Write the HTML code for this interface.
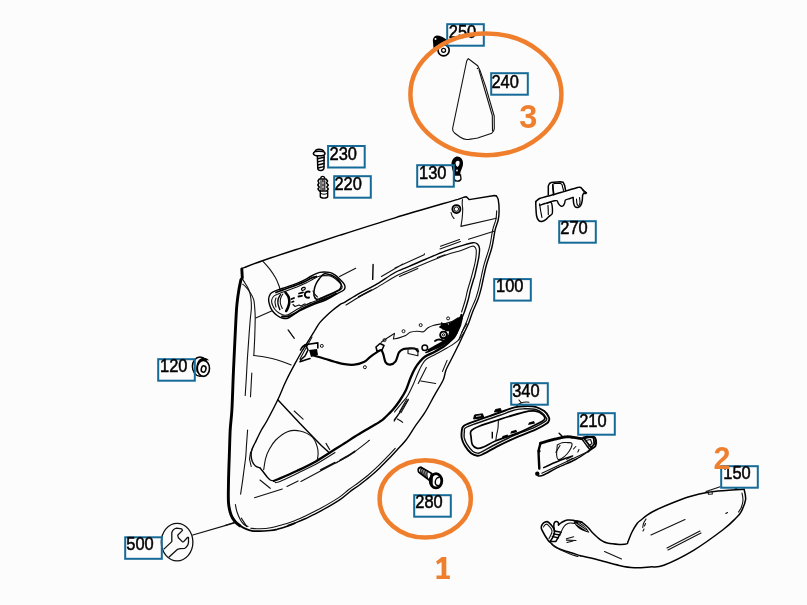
<!DOCTYPE html>
<html><head><meta charset="utf-8">
<style>
html,body{margin:0;padding:0;background:#fcfcfc;}
body{width:807px;height:605px;overflow:hidden;position:relative;}
svg{position:absolute;left:0;top:0;will-change:transform;}
.l{fill:none;stroke:#111;stroke-width:1.1;stroke-linecap:round;stroke-linejoin:round;}
.t{fill:none;stroke:#000;stroke-width:1.6;stroke-linecap:round;stroke-linejoin:round;}
.m{fill:none;stroke:#000;stroke-width:1.4;stroke-linecap:round;stroke-linejoin:round;}
.k{fill:none;stroke:#000;stroke-width:2.3;stroke-linecap:round;stroke-linejoin:round;}
.k2{fill:none;stroke:#000;stroke-width:2.9;stroke-linecap:round;stroke-linejoin:round;}
.w{fill:none;stroke:#000;stroke-width:2.2;stroke-linecap:round;stroke-linejoin:round;}
.f{fill:#fcfcfc;stroke:#111;stroke-width:1.2;stroke-linejoin:round;}
.bx{fill:none;stroke:#166a97;stroke-width:2;}
.n{font-family:"Liberation Sans",sans-serif;font-size:17.5px;fill:#000;stroke:#000;stroke-width:0.5;}
.o{fill:none;stroke:#f07f2d;stroke-width:4.5;}
.on{font-family:"Liberation Sans",sans-serif;font-weight:bold;font-size:29px;fill:#f07f2d;}
</style></head>
<body>
<svg width="807" height="605" viewBox="0 0 807 605">
<!-- ============ DOOR PANEL ============ -->
<g id="door">
<path class="m" d="M241.8,269.0 C242.3,268.7 241.0,268.9 244.8,267.4 C248.6,265.9 255.4,263.2 264.6,260.0 C273.8,256.8 287.4,252.4 300.0,248.3 C312.6,244.2 324.2,240.3 340.0,235.2 C355.8,230.1 375.3,223.8 395.0,217.8 C414.7,211.8 447.5,202.4 458.0,199.3 L463.6,197.3 L466.4,196.7 L469.1,199.6 L494.5,195.5 L496.4,196"/>
<path class="m" d="M496.4,196.0 C496.7,196.7 497.9,197.5 498.3,200.0 C498.8,202.5 499.1,207.6 499.1,210.9 C499.1,214.2 498.9,216.8 498.2,220.0 C497.5,223.2 496.1,225.5 495.1,230.0 C494.1,234.5 493.4,241.2 492.0,247.0 C490.6,252.8 488.0,259.2 486.5,264.7 C485.0,270.2 483.9,275.8 483.0,280.0 C482.1,284.2 481.7,286.6 480.8,289.9 C479.9,293.2 479.2,296.2 477.8,299.8 C476.4,303.4 474.2,307.9 472.7,311.7 C471.2,315.5 470.3,319.0 468.8,322.7 C467.3,326.4 465.5,329.9 463.8,333.6 C462.1,337.3 460.5,340.9 458.5,345.0 C456.5,349.1 454.1,353.8 452.0,358.0 C449.9,362.2 447.5,366.3 446.0,370.0 C444.5,373.7 445.1,375.9 443.2,380.0 C441.3,384.1 437.8,389.4 434.7,394.9 C431.6,400.3 428.1,407.4 424.8,412.7 C421.5,418.0 418.0,422.1 414.9,426.6 C411.8,431.2 409.0,436.1 406.0,440.0 C403.0,443.9 399.7,447.0 397.0,450.0 C394.3,453.0 392.5,454.9 389.6,457.9 C386.7,460.9 383.0,464.8 379.7,467.9 C376.4,471.0 373.1,474.0 369.8,476.8 C366.5,479.6 363.1,482.2 359.8,484.7 C356.5,487.2 353.2,489.2 349.9,491.7 C346.6,494.2 344.8,496.5 340.0,499.6 C335.2,502.8 327.1,507.5 321.4,510.6 C315.7,513.8 310.1,516.4 305.7,518.5 C301.2,520.6 297.6,522.0 294.7,523.2 C291.8,524.4 289.1,525.1 288.0,525.5"/>
<path class="l" d="M496.7,210.7 C496.6,212.1 496.5,216.4 495.9,219.5 C495.2,222.6 493.8,225.0 492.8,229.5 C491.7,233.9 491.1,240.7 489.7,246.4 C488.2,252.2 485.7,258.6 484.2,264.1 C482.7,269.6 481.6,275.3 480.7,279.5 C479.7,283.7 479.3,286.0 478.5,289.3 C477.6,292.5 476.9,295.4 475.6,299.0 C474.2,302.6 472.0,307.0 470.5,310.8 C469.0,314.6 468.1,318.2 466.6,321.8 C465.1,325.4 462.4,330.8 461.6,332.6"/>
<path class="l" d="M395.2,448.4 C394.0,449.7 390.7,453.3 387.9,456.2 C385.0,459.2 381.3,463.0 378.0,466.2 C374.8,469.3 371.5,472.2 368.3,475.0 C365.0,477.7 361.7,480.3 358.4,482.8 C355.1,485.2 351.7,487.3 348.5,489.8 C345.2,492.3 343.4,494.5 338.7,497.6 C334.0,500.7 325.9,505.4 320.2,508.5 C314.6,511.6 309.1,514.2 304.7,516.3 C300.3,518.4 295.6,520.2 293.8,521.0"/>
<path class="k2" d="M241.8,269 L242.3,277.8 L240.9,279.8  C240.6,281.4 239.6,285.6 238.9,289.7 C238.2,293.8 237.4,299.6 236.9,304.6 C236.4,309.7 236.5,309.1 235.9,320.0 C235.3,330.9 234.2,355.0 233.5,370.0 C232.8,385.0 232.5,400.0 231.9,410.0 C231.3,420.0 230.6,422.3 230.2,430.0 C229.8,437.7 229.6,447.3 229.3,456.0 C229.0,464.7 228.6,474.3 228.5,482.1 C228.4,489.9 228.1,497.4 228.5,502.9 C228.9,508.4 230.0,511.9 231.1,515.0 C232.2,518.1 233.5,519.7 235.0,521.5 C236.5,523.3 239.2,525.1 240.0,525.8"/>
<path class="m" d="M236.0,522.6 C236.7,523.1 238.4,524.8 240.0,525.8 C241.6,526.8 243.8,528.1 245.8,528.9 C247.8,529.7 249.7,530.4 252.0,530.8 C254.3,531.2 256.7,531.2 259.7,531.2 C262.7,531.2 267.1,530.8 270.0,530.5 C272.9,530.2 274.1,530.0 277.1,529.3 C280.1,528.5 285.1,527.0 288.0,526.0 C290.9,525.0 293.6,523.7 294.7,523.2" style="stroke-width:1.7"/>
<path class="l" d="M250.7,528.3 C252.2,528.4 256.4,528.9 260.0,528.8 C263.6,528.7 268.2,528.2 272.0,527.5 C275.8,526.8 279.4,525.5 283.0,524.5 C286.6,523.5 291.7,521.8 293.4,521.3"/>
<path class="l" d="M241.3,518.1 L246.8,526.6"/>
<path class="l" d="M242.3,278.8 C242.7,279.5 243.7,281.0 244.8,282.8 C245.9,284.6 247.8,287.2 248.8,289.7 C249.8,292.2 250.4,294.7 250.8,297.7 C251.2,300.7 251.5,303.9 251.4,307.6 C251.3,311.3 250.6,315.1 250.2,320.0 C249.8,324.9 249.3,331.1 248.9,337.0 C248.5,342.9 248.1,348.3 247.6,355.5 C247.1,362.7 246.6,373.3 246.2,380.0 C245.8,386.7 245.4,392.9 245.2,395.5"/>
<path class="l" d="M242.8,284.3 C243.3,284.7 244.6,285.4 245.8,286.8 C247.1,288.2 249.0,290.6 250.3,292.7 C251.6,294.8 253.0,297.1 253.7,299.6 C254.4,302.1 254.4,304.6 254.7,307.6 C254.9,310.6 255.2,312.9 255.2,317.5 C255.2,322.1 255.0,328.7 254.8,335.0 C254.6,341.3 254.0,352.1 253.8,355.5"/>
<path class="l" d="M253.8,355.5 C255.2,355.7 259.0,356.0 262.0,356.5 C265.0,357.0 268.7,357.7 272.0,358.5 C275.3,359.3 278.8,360.4 282.0,361.5 C285.2,362.6 289.7,364.3 291.2,364.9"/>
<path class="l" d="M251.8,373 L250.5,396.8"/>
<path class="l" d="M255.7,318 L271.6,311"/>
<path class="l" d="M247.6,430.0 C247.4,432.5 246.8,440.7 246.5,445.0 C246.2,449.3 246.2,451.8 245.8,456.0 C245.4,460.2 244.6,465.6 244.0,470.0 C243.4,474.4 243.0,478.1 242.4,482.1 C241.8,486.1 240.9,492.2 240.6,494.2"/>
<path class="l" d="M235.4,504.6 C235.7,505.8 236.1,509.4 237.0,512.0 C237.9,514.6 239.4,518.1 240.6,520.2 C241.8,522.3 242.8,523.5 244.0,524.5 C245.2,525.5 247.3,526.2 248.0,526.5"/>
<path class="l" d="M225,525.4 L235.4,522"/>
<path class="l" d="M262.7,261.0 C263.9,262.3 267.5,266.1 269.6,268.9 C271.7,271.7 273.9,275.0 275.5,277.8 C277.1,280.6 278.2,283.8 279.0,285.8 C279.8,287.8 279.8,289.1 280.0,289.7"/>
<path class="m" d="M270.4,293.9 C271.4,292.5 272.9,292.1 274.8,291.2 C276.7,290.3 278.4,289.8 282.0,288.5 C285.6,287.2 292.4,285.1 296.3,283.6 C300.2,282.1 302.7,280.9 305.2,279.6 C307.7,278.3 309.0,277.2 311.4,276.0 C313.8,274.8 316.7,273.0 319.7,272.4 C322.7,271.8 326.9,272.0 329.4,272.4 C331.9,272.8 332.7,273.4 334.6,274.7 C336.5,275.9 339.0,278.3 340.6,279.9 C342.2,281.5 343.6,283.1 344.3,284.3 C345.0,285.5 345.1,286.3 345.0,287.3 C344.9,288.3 345.0,289.1 343.5,290.3 C342.0,291.5 339.0,292.7 336.0,294.3 C333.0,295.9 329.6,298.2 325.7,300.0 C321.8,301.8 316.4,303.4 312.3,305.1 C308.2,306.8 303.9,308.7 301.2,310.0 C298.5,311.3 298.5,311.5 296.3,312.8 C294.1,314.1 290.4,317.1 288.2,318.0 C286.0,318.9 284.7,318.7 282.9,318.3 C281.1,317.9 279.2,317.0 277.5,315.8 C275.8,314.6 273.8,312.7 272.5,311.0 C271.2,309.3 270.4,307.4 269.8,305.5 C269.2,303.6 268.5,301.4 268.6,299.5 C268.7,297.6 269.4,295.3 270.4,293.9 Z" style="stroke-width:1.4"/>
<path class="l" d="M273.5,296.5 C274.4,295.5 275.4,295.2 277.0,294.5 C278.6,293.8 279.7,293.2 283.0,292.0 C286.3,290.8 293.2,288.5 297.0,287.0 C300.8,285.5 303.4,284.2 306.0,283.0 C308.6,281.8 310.2,280.7 312.5,279.5 C314.8,278.3 317.2,276.6 320.0,276.0 C322.8,275.4 326.8,275.6 329.0,275.8 C331.2,276.1 331.9,276.6 333.5,277.5 C335.1,278.4 337.1,280.2 338.5,281.5 C339.9,282.8 341.2,284.4 341.8,285.5 C342.4,286.6 342.3,287.2 342.0,288.0 C341.7,288.8 341.2,289.2 340.0,290.0 C338.8,290.8 337.1,291.2 334.5,292.5 C331.9,293.8 328.3,295.8 324.5,297.5 C320.7,299.2 315.5,300.8 311.5,302.5 C307.5,304.2 303.2,306.2 300.5,307.5 C297.8,308.8 297.6,309.1 295.5,310.3 C293.4,311.5 290.0,314.0 288.0,314.8 C286.0,315.6 285.0,315.3 283.5,315.0 C282.0,314.7 280.4,313.9 279.0,313.0 C277.6,312.1 276.1,310.8 275.0,309.5 C273.9,308.2 273.1,306.5 272.5,305.0 C271.9,303.5 271.4,301.9 271.6,300.5 C271.8,299.1 272.6,297.5 273.5,296.5 Z" style="stroke-width:1.1"/>
<path class="t" d="M324.5,273.8 C322.5,274.4 320.9,276.8 319.5,278.5 C318.1,280.2 316.9,282.1 316.0,284.0 C315.1,285.9 314.5,288.1 314.2,290.0 C313.9,291.9 313.6,294.0 314.0,295.5 C314.4,297.0 315.2,298.8 316.5,299.2 C317.8,299.6 318.6,299.0 322.0,297.6 C325.4,296.2 333.9,292.6 337.0,291.0 C340.1,289.4 339.9,289.0 340.6,287.8 C341.3,286.6 341.5,285.4 341.0,284.0 C340.5,282.6 339.2,280.6 337.6,279.1 C336.0,277.6 333.8,276.1 331.6,275.2 C329.4,274.3 326.5,273.2 324.5,273.8 Z" style="stroke-width:1.5"/>
<path class="k" d="M276.0,292.5 C277.2,292.1 279.6,291.1 283.0,289.8 C286.4,288.6 292.8,286.4 296.5,285.0 C300.2,283.6 303.0,282.4 305.5,281.2 C308.0,280.0 309.7,278.8 311.5,278.0 C313.3,277.2 315.7,276.8 316.5,276.5" style="stroke-width:1.8"/>
<path class="k" d="M282.0,316.5 C283.1,316.4 286.2,316.8 288.5,316.2 C290.8,315.6 293.9,313.8 296.0,312.6 C298.1,311.5 298.3,310.7 301.0,309.3 C303.7,307.9 307.9,305.8 312.0,304.0 C316.1,302.2 321.5,300.4 325.5,298.7 C329.5,297.0 334.2,294.5 336.0,293.6" style="stroke-width:1.8"/>
<path class="k" d="M285.5,292.5 C286.0,293.2 288.0,295.3 288.6,297.0 C289.2,298.7 289.4,300.8 289.3,302.5 C289.2,304.2 288.5,306.1 288.0,307.5 C287.5,308.9 286.5,310.4 286.2,311.0" style="stroke-width:2.6"/>
<path class="m" d="M280.5,294.5 C280.1,295.2 278.6,297.4 278.2,299.0 C277.8,300.6 277.7,302.2 278.0,304.0 C278.3,305.8 279.5,308.6 279.8,309.5"/>
<path class="l" d="M282.8,294.0 C282.4,294.8 281.0,296.9 280.6,298.5 C280.2,300.1 280.1,301.8 280.4,303.5 C280.7,305.2 282.0,307.7 282.3,308.5"/>
<path class="l" d="M276.0,298.0 C275.8,298.7 275.0,300.5 275.0,302.0 C275.0,303.5 275.8,306.2 276.0,307.0"/>
<ellipse cx="303.4" cy="288.8" rx="2" ry="1.3" fill="none" stroke="#000" stroke-width="1.2" transform="rotate(-25 303.4 288.8)"/>
<path class="t" d="M309.5,291.8 C307.5,291 305,292 304.8,294.5 C304.7,296.5 306.5,298 309,297.6" style="stroke-width:2"/>
<path class="t" d="M299,293.5 L303,292.3 M298.5,296.5 L302,295.8" style="stroke-width:1.8"/>
<path class="l" d="M293,304.5 L295,306.5 L299,305 L301,306 L304.5,304 L307,304.5 L311,302.5"/>
<path class="t" d="M291.5,299 L294,298 M292,302 L293.5,301.5" style="stroke-width:1.8"/>
<path class="l" d="M313,291 C314,293.5 315.5,295.5 317.5,297"/>
<path class="l" d="M339.6,276.5 L355.7,268.2"/>
<path class="m" d="M373.1,264.5 L372.7,279.4"/>
<path class="l" d="M288.2,330 L294.2,338.2"/>
<path class="m" d="M460.3,321.5 C461.0,319.9 463.2,315.3 464.5,311.7 C465.8,308.1 467.2,303.4 468.2,299.8 C469.2,296.2 469.6,293.2 470.5,289.9 C471.4,286.6 472.7,282.3 473.4,280.0 C474.1,277.7 474.0,278.8 474.6,276.3 C475.2,273.8 476.5,268.3 477.2,265.0 C477.9,261.7 478.5,259.4 478.9,256.6 C479.3,253.9 479.7,250.5 479.5,248.5 C479.3,246.5 478.9,245.5 477.8,244.5 C476.7,243.5 476.1,242.4 473.1,242.7 C470.1,243.0 464.7,244.8 460.0,246.2 C455.3,247.6 450.8,249.0 445.0,251.2 C439.2,253.4 431.7,256.7 425.0,259.5 C418.3,262.3 410.0,266.0 405.0,268.2 C400.0,270.4 400.0,269.7 395.0,272.5 C390.0,275.3 381.1,281.6 375.0,285.2 C368.9,288.8 363.4,291.0 358.4,293.8 C353.4,296.6 348.1,300.3 345.0,302.1 C341.9,303.9 342.2,303.0 339.6,304.8 C337.1,306.6 333.0,309.7 329.7,312.7 C326.4,315.7 322.3,319.6 319.8,322.6 C317.3,325.7 316.3,328.1 314.5,331.0 C312.7,333.9 311.1,336.5 308.9,340.0 C306.7,343.5 303.8,348.1 301.5,352.0 C299.2,355.9 297.6,358.9 295.0,363.7 C292.4,368.5 288.9,375.0 286.0,381.0 C283.1,387.0 280.9,393.3 277.8,399.8 C274.7,406.3 270.1,415.0 267.4,420.0 C264.7,425.0 263.5,426.2 261.4,430.0 C259.3,433.8 256.5,439.9 255.0,443.0 C253.5,446.1 253.0,446.6 252.3,448.5 C251.6,450.4 251.0,452.1 251.0,454.3 C251.0,456.5 251.6,459.6 252.3,461.5 C253.1,463.4 254.2,464.9 255.5,466.0 C256.8,467.1 259.2,467.6 260.0,467.9"/>
<path class="l" d="M461.6,312.0 C462.2,310.0 464.3,303.7 465.3,300.0 C466.3,296.3 466.7,293.3 467.6,290.0 C468.5,286.7 469.7,283.3 470.6,280.0 C471.6,276.7 472.5,273.0 473.3,270.0 C474.1,267.0 474.8,264.2 475.2,262.0 C475.6,259.8 475.8,258.6 476.0,256.6 C476.2,254.6 476.4,251.6 476.2,250.0 C476.0,248.4 475.5,247.6 474.8,247.0 C474.1,246.4 474.3,245.7 472.0,246.3 C469.7,246.9 465.3,249.1 461.0,250.5 C456.7,251.9 451.8,252.9 446.0,255.0 C440.2,257.1 432.7,260.2 426.0,263.0 C419.3,265.8 411.0,269.4 406.0,271.6 C401.0,273.8 401.0,273.3 396.0,276.0 C391.0,278.7 382.0,284.6 376.0,288.0 C370.0,291.4 365.0,293.7 360.0,296.5 C355.0,299.3 348.3,303.6 346.0,305.0"/>
<path class="l" d="M358.4,296.8 L371.3,289.9"/>
<path class="l" d="M300,359 L312,337"/>
<path class="l" d="M466.8,323.7 C466.0,325.1 463.3,329.3 462.0,332.0 C460.7,334.7 459.3,338.7 458.8,340.0"/>
<path class="l" d="M381.4,276.5 L402.9,264.1 M395,268.1 L424.1,254.8 L424.5,253.8"/>
<path class="l" d="M403.6,274.7 L417.8,268.4 M399.5,276.5 L405,274 M358.6,297.1 L371.4,290.1 M437.3,257.5 L445,254.8"/>
<path class="l" d="M440,248.9 L460.4,241.5 M440.5,246.2 L459.5,239.5"/>
<path class="l" d="M468.5,239.3 L494,231.2"/>
<path class="l" d="M462.5,199.6 C462.4,200.3 462.2,202.4 462.2,204.0 C462.2,205.6 462.7,206.8 462.7,209.1 C462.7,211.4 462.5,215.1 462.2,218.0 C461.9,220.9 461.1,225.0 460.9,226.4 L496.4,218.2"/>
<circle cx="456.4" cy="209.1" r="4" fill="none" stroke="#000" stroke-width="1.9"/>
<circle cx="456.4" cy="209.1" r="2.2" fill="none" stroke="#000" stroke-width="1"/>
<path class="l" d="M451,212.5 C451.5,215 452.5,217 454,218.5"/>
<path class="w" d="M313.5,355.5 C315.4,356.0 321.2,357.7 324.7,358.7 C328.2,359.7 331.3,360.8 334.6,361.7 C337.9,362.6 341.3,363.7 344.6,364.2 C347.9,364.7 351.2,365.1 354.5,364.7 C357.8,364.3 361.8,363.0 364.4,361.7 C367.0,360.4 368.2,358.4 370.3,356.8 C372.4,355.2 374.9,353.5 376.7,352.4 C378.5,351.3 380.1,349.7 381.2,350.1 C382.3,350.5 382.7,352.6 383.4,354.6 C384.1,356.7 384.5,360.7 385.6,362.4 C386.7,364.1 388.4,364.8 390.1,364.6 C391.8,364.4 394.1,363.3 395.6,361.3 C397.1,359.3 397.7,354.4 399.0,352.4 C400.3,350.3 402.0,349.6 403.5,349.0 C405.0,348.4 406.0,348.6 407.9,348.5 C409.8,348.4 412.9,348.0 414.6,348.5 C416.3,349.0 417.4,350.8 418.0,351.3"/>
<path class="l" d="M381.2,342.3 C382.3,341.5 385.8,339.0 388.0,337.5 C390.2,336.0 393.4,334.1 394.5,333.4 L393.4,339  C394.3,338.8 396.9,338.5 399.0,337.9 C401.1,337.3 403.8,336.5 405.7,335.6 C407.6,334.7 408.2,333.0 410.1,332.3 C412.0,331.6 414.6,331.3 416.8,331.2 C419.0,331.1 421.6,332.3 423.5,331.7 C425.4,331.1 426.1,328.9 428.0,327.8 C429.9,326.7 432.5,325.8 434.7,325.1 C436.9,324.5 439.5,324.2 441.4,323.9 C443.2,323.6 443.9,323.8 445.8,323.4 C447.7,322.9 450.4,322.1 452.5,321.2 C454.6,320.3 457.2,318.4 458.1,317.8"/>
<path class="t" d="M300,361.7 L305.9,359.7 L310,358.5 M304.9,344.9 L310,344 L317.8,342.9 L317.8,348 M300.5,350 C302,347 304,345 306,345.5 L308,350 L305,356 L300.5,360"/>
<path d="M309,350 L317,349 L318,355 L311,357 Z" fill="#000"/>
<circle cx="321.8" cy="345.9" r="1.5" fill="none" stroke="#111" stroke-width="1"/>
<circle cx="364.9" cy="367.2" r="1.5" fill="none" stroke="#111" stroke-width="1"/>
<circle cx="384.5" cy="340.1" r="1.5" fill="none" stroke="#111" stroke-width="1"/>
<circle cx="403.5" cy="331.2" r="1.5" fill="none" stroke="#111" stroke-width="1"/>
<circle cx="420.7" cy="325.1" r="1.5" fill="none" stroke="#111" stroke-width="1"/>
<circle cx="448.1" cy="318.4" r="1.5" fill="none" stroke="#111" stroke-width="1"/>
<path class="t" d="M376,347 L380,343.5 L384,345.5 L382,350 L377,351 Z"/>
<path class="l" d="M408,348.7 L417.9,348.7 L417.9,355.7 L408,353.5 Z"/>
<circle cx="443.7" cy="335.3" r="3.5" fill="none" stroke="#000" stroke-width="1.5"/>
<circle cx="443.7" cy="335.3" r="1.3" fill="none" stroke="#000" stroke-width="1"/>
<circle cx="424.8" cy="347.7" r="2.8" fill="none" stroke="#000" stroke-width="1.5"/>
<path class="t" d="M441.7,323 L443,329 M440,327 L444,324 L448,326 L446.5,330 Z"/>
<path class="t" d="M452.0,323.0 C452.1,324.2 452.8,327.7 452.5,330.0 C452.2,332.3 451.6,334.9 450.5,337.0 C449.4,339.1 447.8,340.9 446.0,342.5 C444.2,344.1 442.3,345.2 440.0,346.5 C437.7,347.8 434.3,349.0 432.0,350.0 C429.7,351.0 427.0,352.1 426.0,352.5"/>
<path d="M447,326 L456,321 L453,333 L447,341 L449,332 Z" fill="#000"/>
<path d="M448.5,323.5 L455,320 L461.5,315.5 L463,318 L461,326 L457.5,333.5 L452.5,339.5 L446,343.5 L438,347 L431,350.5 L428.5,352.5 L427.5,349.5 L435,345.3 L443.5,340.5 L449,334.5 L450.5,328 Z" fill="#000"/>
<path d="M442,323.8 L447.5,323.2 L450,326.5 L449.5,331 L446,331.5 L442.5,328.5 Z" fill="#000"/>
<circle cx="443.5" cy="334.8" r="3.2" fill="#fff" stroke="#000" stroke-width="1.6"/>
<circle cx="443.5" cy="334.8" r="1.1" fill="none" stroke="#000" stroke-width="1"/>
<path class="t" d="M434.9,341.0 C435.4,340.8 436.9,339.8 438.0,339.6 C439.1,339.4 440.4,339.5 441.5,339.8 C442.6,340.1 444.2,341.2 444.8,341.5" style="stroke-width:1.8"/>
<path class="k" d="M461.5,315.0 C461.0,316.6 459.6,321.6 458.6,324.9 C457.6,328.2 456.8,332.3 455.6,334.8 C454.4,337.3 453.4,338.0 451.6,339.8 C449.8,341.6 447.5,343.8 444.7,345.8 C441.9,347.8 438.1,349.9 434.8,351.7 C431.5,353.5 427.3,355.0 424.8,356.7 C422.3,358.4 421.5,359.6 419.9,361.6 C418.2,363.6 416.5,365.9 414.9,368.6 C413.3,371.3 412.0,374.4 410.5,378.0 C409.0,381.6 407.8,386.2 406.0,390.0 C404.2,393.8 401.7,397.7 399.5,401.0 C397.3,404.3 395.2,407.0 392.8,409.8 C390.4,412.6 386.9,415.8 384.8,417.8 C382.7,419.8 382.9,419.8 380.0,421.6 C377.1,423.5 371.8,426.4 367.6,428.9 C363.4,431.4 358.8,434.1 355.0,436.5 C351.2,438.9 348.3,440.9 345.0,443.0 C341.7,445.1 339.9,446.2 335.0,449.3 C330.1,452.4 322.1,457.8 315.8,461.4 C309.5,465.0 303.4,467.8 297.2,470.7 C291.0,473.6 282.5,477.3 278.6,479.0 C274.7,480.7 274.7,480.6 273.9,480.9"/>
<path class="l" d="M464.5,331.9 C463.4,333.4 460.5,338.1 457.6,340.8 C454.7,343.5 450.8,345.7 447.0,348.0 C443.2,350.3 438.2,352.8 434.8,354.7 C431.4,356.6 428.5,357.6 426.3,359.3 C424.1,361.0 423.3,362.7 421.9,365.0 C420.5,367.3 419.5,369.7 418.0,373.0 C416.5,376.3 414.8,381.2 413.0,385.0 C411.2,388.8 409.5,392.8 407.5,396.0 C405.5,399.2 403.2,401.3 401.0,404.0 C398.8,406.7 395.6,410.7 394.5,412.0"/>
<path class="l" d="M335.0,452.5 C331.8,454.5 322.1,460.8 315.8,464.3 C309.5,467.8 303.2,470.5 297.2,473.4 C291.2,476.3 283.6,480.0 280.0,481.5 C276.4,483.0 276.1,482.4 275.3,482.6"/>
<path class="m" d="M273.9,480.9 C273.3,480.8 271.3,480.6 270.2,480.0 C269.1,479.4 268.5,478.4 267.4,477.2 C266.3,475.9 264.9,474.1 263.7,472.5 C262.5,470.9 260.6,468.7 260.0,467.9"/>
<path class="l" d="M447.1,360.4 L442.5,371.4 M426.3,367.4 L418.2,383.5 M420.8,381 L435.7,383.5 M408.4,399.8 L401,412.7 M406.8,399 L399.4,411.9"/>
<path class="l" d="M397.4,419.1 C399,420 401,421 402.7,422.4 M408.3,399.3 L394.1,421.1"/>
<path class="m" d="M277.8,399.8 L300,423.5 L321.3,445.6 L328.5,452"/>
<path class="l" d="M294.2,411 L303.1,419.2 M326,443.4 L329.7,449.6 M288.2,330 L294.2,338.2"/>
<path class="l" d="M263.7,469.7 C264.0,467.9 264.7,462.0 265.6,458.6 C266.5,455.2 267.6,452.4 269.3,449.3 C271.0,446.2 272.8,442.9 275.8,440.0 C278.8,437.1 283.5,433.2 287.5,431.7 C291.5,430.2 295.9,430.1 300.0,431.0 C304.1,431.9 309.5,434.5 312.4,437.2 C315.3,439.9 316.4,444.3 317.3,447.1 C318.2,449.9 318.1,451.7 318.1,453.9 C318.1,456.1 317.4,459.3 317.2,460.4"/>
<path class="l" d="M250.6,452 L249.5,459 L251.2,466.5 M252,449 L250.8,455"/>
<path class="l" d="M260,480 L270.2,488.3 M254.5,497.7 L282.3,489 M287,486.5 L298.1,480.9 M300.9,481.4 L335,463.2 M320.4,469.7 L335,462.3"/>
<path class="l" d="M335.0,463.2 C337.5,461.8 344.3,458.8 350.0,455.0 C355.7,451.2 366.2,442.8 369.4,440.3"/>
<path class="l" d="M340.0,459.9 C341.3,459.2 345.5,457.0 348.0,455.5 C350.5,454.0 353.8,451.8 354.9,451.0 M336,463 L355,451.8"/>
<path class="l" d="M400,412.4 L394.2,419.8"/>
</g>

<!-- ============ 500 wrench ============ -->
<g>
<path class="l" d="M192.8,535 L234.5,522.8" style="stroke-width:1.2"/>
<ellipse cx="177.1" cy="542.1" rx="15.8" ry="18.8" fill="none" stroke="#111" stroke-width="1.3"/>
<path d="M163.6,549.4 L171.8,541.6 L171.8,532.6 C172.5,530.8 173.2,529.8 174,529.3 C175,528.6 175.8,528.3 176.6,528.2 L181.8,528.9 L182.5,530.4 L177.7,535.2 L178.4,537.8 L182.5,541.9 L183.7,541.6 L187.4,537.5 L188.5,537.5 L188.5,542.3 C188.3,543.8 187.9,544.8 187.4,545.7 C186.5,547 185.7,547.8 184.8,548.3 L180.3,548.6 L177.3,549.4 L168.8,557.2" fill="none" stroke="#111" stroke-width="1.3" stroke-linejoin="round"/>
</g>

<!-- ============ 120 grommet ============ -->
<g>
<ellipse cx="200" cy="366.6" rx="7.6" ry="9.6" fill="#fcfcfc" stroke="#000" stroke-width="1.5"/>
<path d="M196.5,372 C195.5,365 197.5,359.5 202,358 C205,357.3 207.5,358.5 209,360.5 C205,359.5 201,361.5 199.5,366 C198.7,368.5 198.5,371 199,373.5 Z" fill="#000"/>
<ellipse cx="203.4" cy="368.4" rx="6.1" ry="8" fill="#fcfcfc" stroke="#000" stroke-width="1.6"/>
<ellipse cx="203.6" cy="369" rx="2.3" ry="3.2" fill="none" stroke="#000" stroke-width="1.5" transform="rotate(15 203.6 369)"/>
</g>

<!-- ============ 230 screw ============ -->
<g fill="none" stroke="#000" stroke-linejoin="round" stroke-linecap="round">
<path d="M314.8,152 C315.3,150.3 317,149.3 319,149.3 C321.5,149.3 323.3,150.2 323.8,151.5" stroke-width="1.4"/>
<path d="M313.4,153.5 C313.5,152 316,151.3 319,151.3 C322,151.3 325,152 325,153.5 C325,155 322,155.8 319,155.8 C316,155.8 313.4,155 313.4,153.5 Z" fill="#fcfcfc" stroke-width="1.6"/>
<path d="M317.4,155.8 L317.8,168.5 C318,170 319.5,170.6 321,170.5 C322.8,170.4 323.8,169.6 324,168 L324.1,155.8" stroke-width="1.5"/>
<path d="M317.5,158.8 L324,157.3 M317.6,161.9 L324,160.4 M317.7,165 L324,163.5 M317.9,168 L323.8,166.6" stroke-width="1.4"/>
</g>
<!-- ============ 220 clip ============ -->
<g fill="none" stroke="#000" stroke-linejoin="round" stroke-linecap="round">
<path d="M320.8,178.3 C320.8,177 321.7,176.4 322.7,176.4 C323.7,176.4 324.6,177 324.6,178.3" stroke-width="1.4"/>
<path d="M319.3,179 L326,179 L327.6,181 L326.5,183 L328.3,185 L326.8,187 L328.3,189 L326.8,191 L319.5,191 L318,189 L319.2,187 L317.8,185 L319,183 L318,181 Z" fill="#fcfcfc" stroke-width="1.5"/>
<path d="M321,180.5 L321,189.5 M324.8,180.5 L324.8,189.5" stroke-width="1.1"/>
<path d="M322.9,180 L323,182 M323,184 L323,186 M323,188 L323,190" stroke-width="1.3"/>
<path d="M320.3,191 L320.3,196.5 C320.7,198.6 327.3,198.6 327.7,196.5 L327.7,191" stroke-width="1.4"/>
<path d="M320.8,193.5 C322.8,194.5 325.5,194.5 327.3,193.5" stroke-width="1"/>
</g>

<!-- ============ 130 clip ============ -->
<g>
<path d="M452,168 C450.5,163 452,158 456.5,156.5 C461,156 463.5,160 463,164.5 C462.5,168 461,170 460.5,172 L460,176 L454,176 L453.5,172 C452.5,171 452.3,169.5 452,168 Z" fill="#000"/>
<path d="M455.5,163 C456,160.5 458.5,160 459.5,161.5 C460,163.5 459,166 457.5,167 C456.5,166 455.5,165 455.5,163 Z" fill="#fcfcfc"/>
<circle cx="457" cy="170.5" r="0.9" fill="#fcfcfc"/>
<path d="M454,175 L460.5,175 L461,179 C460.5,181.5 455,182 454.5,179.5 Z" fill="#fcfcfc" stroke="#000" stroke-width="1.3"/>
</g>
<!-- ============ 250 clip ============ -->
<g>
<path d="M433,42 C432.5,38.5 434,36 437,35.5 C440,35.5 443,37 445,38.5 L447.5,40 L441,47 L436,50 L433.5,48 Z" fill="#000"/>
<circle cx="435.5" cy="39" r="1" fill="#fcfcfc"/>
<circle cx="443.6" cy="50.3" r="5.6" fill="#fcfcfc" stroke="#000" stroke-width="1.6"/>
<circle cx="443.6" cy="50.3" r="2" fill="none" stroke="#000" stroke-width="1.2"/>
</g>
<!-- ============ 240 trim ============ -->
<g>
<path class="l" d="M468.3,58.6 L466.7,61 L452.6,128.5 C452.5,130.5 453,132 454.5,133 C456.5,134.5 458.5,136 460.4,137.2 C462.5,138.5 464.5,139.3 466.7,139.5 C470,139.3 474,138.6 477.7,138 L491.8,133.2 C493.5,131.5 494.3,130 494.3,128.5 L494.2,116 L485.5,86.1 L480,70.4 L477.7,65.7 L471.4,61 Z" stroke-width="1.3"/>
<path class="l" d="M479,70 L483.8,86.5 L492.3,115.5 L492.5,131"/>
<circle cx="477.5" cy="68.5" r="0.8" fill="#111"/>
</g>
<!-- ============ 270 bracket ============ -->
<g>
<path d="M548.3,195.5 L548.3,186.0 L549.5,183.5 L551.0,182.6 L560.1,181.8 L563.2,182.2 L564.7,185.6 L565.5,190.2 L566.2,191.3" fill="#fcfcfc" stroke="#000" stroke-width="1.5" stroke-linejoin="round"/>
<path d="M552.9,185.6 L553.1,190.0 L553.7,194.7" fill="none" stroke="#000" stroke-width="1.8" stroke-linejoin="round" stroke-linecap="round"/>
<path d="M552.5,184.5 L554.5,183.5 L560.5,183.3 L562.0,184.6 L563.5,190.5" fill="none" stroke="#000" stroke-width="1.1" stroke-linejoin="round" stroke-linecap="round"/>
<path d="M535.8,201.6 C536.4,201.1 537.7,199.4 539.6,198.5 C541.5,197.6 544.7,197.0 547.2,196.3 C549.7,195.6 551.6,195.2 554.8,194.3 C558.0,193.4 562.4,192.0 566.2,190.9 C570.0,189.8 575.2,188.1 577.6,187.5 C580.0,186.9 579.7,186.9 580.7,187.5 C581.7,188.1 582.8,190.0 583.7,190.9 C584.7,191.8 586.1,192.4 586.4,192.8 C586.6,193.2 585.7,193.5 585.2,193.6 C584.8,193.7 584.0,193.3 583.7,193.2" fill="none" stroke="#000" stroke-width="1.5" stroke-linejoin="round" stroke-linecap="round"/>
<path d="M535.8,201.6 C535.8,202.2 535.7,202.6 535.8,205.0 C535.9,207.4 536.1,213.4 536.6,216.0 C537.1,218.6 537.8,219.7 538.8,220.6 C539.8,221.5 541.3,221.6 542.6,221.3 C543.9,221.1 545.2,220.0 546.4,219.1 C547.5,218.2 549.0,216.5 549.5,216.0" fill="none" stroke="#000" stroke-width="1.5" stroke-linejoin="round" stroke-linecap="round"/>
<path d="M539.6,203.9 C539.8,204.9 540.1,207.7 540.5,210.0 C540.9,212.3 541.7,216.2 541.9,217.5" fill="none" stroke="#000" stroke-width="1.1" stroke-linejoin="round" stroke-linecap="round"/>
<path d="M547.2,203.1 C547.8,203.0 550.2,201.8 551.0,202.3 C551.8,202.8 552.0,204.2 552.2,206.1 C552.4,208.0 552.7,212.0 552.2,213.7 C551.8,215.3 550.0,215.6 549.5,216.0" fill="none" stroke="#000" stroke-width="1.4" stroke-linejoin="round" stroke-linecap="round"/>
<path d="M548.0,205.4 C548.0,206.2 548.2,208.5 548.2,210.0 C548.2,211.5 548.3,213.8 548.3,214.5" fill="none" stroke="#000" stroke-width="1.1" stroke-linejoin="round" stroke-linecap="round"/>
<path d="M539.6,205.4 C540.5,205.1 543.1,204.1 545.0,203.5 C546.9,202.9 549.4,202.0 551.0,201.6 C552.6,201.2 553.8,200.9 554.8,200.8 C555.8,200.7 556.5,200.3 557.1,200.8 C557.7,201.3 558.0,203.0 558.6,203.9 C559.2,204.8 560.1,205.8 560.9,206.1 C561.7,206.4 562.6,206.3 563.2,205.8 C563.8,205.3 564.3,204.1 564.7,203.1 C565.1,202.1 564.6,200.8 565.5,200.0 C566.4,199.2 568.7,198.9 570.0,198.5 C571.3,198.1 572.6,197.6 573.1,197.4" fill="none" stroke="#000" stroke-width="1.4" stroke-linejoin="round" stroke-linecap="round"/>
<path d="M573.1,197.4 C573.2,198.5 573.4,202.3 573.8,203.9 C574.2,205.5 574.5,206.3 575.3,206.9 C576.1,207.5 577.5,207.6 578.4,207.3 C579.3,207.1 580.1,206.5 580.7,205.4 C581.3,204.3 581.9,202.5 582.2,200.8 C582.5,199.2 582.4,196.8 582.6,195.5 C582.9,194.2 583.5,193.6 583.7,193.2" fill="none" stroke="#000" stroke-width="1.5" stroke-linejoin="round" stroke-linecap="round"/>
<path d="M576.5,199.0 C576.6,199.8 576.7,202.8 577.0,204.0 C577.3,205.2 578.2,205.7 578.5,206.0" fill="none" stroke="#000" stroke-width="1.1" stroke-linejoin="round" stroke-linecap="round"/>
<path d="M579.5,197.5 C579.6,198.2 580.0,200.8 580.0,202.0 C580.0,203.2 579.6,204.5 579.5,205.0" fill="none" stroke="#000" stroke-width="1.1" stroke-linejoin="round" stroke-linecap="round"/>
<path d="M583,190 L585.5,192.5" fill="none" stroke="#000" stroke-width="1.1" stroke-linejoin="round" stroke-linecap="round"/>
</g>
<!-- ============ 340/210/150 ============ -->
<!-- 340 bezel -->
<path class="m" d="M461.8,430.9 C462.1,428.8 461.7,427.6 463.7,426.0 C465.7,424.4 467.8,423.8 473.6,421.6 C479.4,419.4 491.6,415.4 498.4,413.0 C505.2,410.6 510.2,408.5 514.5,407.4 C518.8,406.3 520.9,406.3 524.4,406.2 C527.9,406.1 532.2,406.0 535.5,406.8 C538.8,407.6 542.0,409.5 544.2,411.1 C546.4,412.8 547.8,415.2 548.6,416.7 C549.4,418.1 549.5,418.7 549.2,419.8 C548.9,420.9 549.0,421.9 546.7,423.5 C544.4,425.1 540.5,427.4 535.5,429.7 C530.5,432.0 523.2,434.4 517.0,437.1 C510.8,439.8 504.2,442.9 498.4,445.8 C492.6,448.7 485.8,452.9 482.3,454.5 C478.8,456.1 479.2,455.9 477.3,455.7 C475.4,455.5 473.2,454.8 471.1,453.2 C469.0,451.6 466.4,448.3 464.9,445.8 C463.3,443.3 462.3,440.9 461.8,438.4 C461.3,435.9 461.5,433.0 461.8,430.9 Z" style="stroke-width:1.9"/>
<path class="l" d="M464.4,431.3 C464.5,429.7 463.6,429.3 465.3,428.0 C467.0,426.8 468.9,426.1 474.5,424.0 C480.2,421.9 492.5,417.8 499.3,415.5 C506.0,413.1 511.0,411.0 515.2,409.9 C519.4,408.8 521.2,408.9 524.5,408.8 C527.8,408.7 531.8,408.6 534.9,409.3 C537.9,410.1 540.7,411.7 542.6,413.2 C544.5,414.6 545.7,417.0 546.3,418.0 C547.0,419.0 546.9,418.5 546.7,419.1 C546.5,419.7 547.2,420.0 545.2,421.4 C543.1,422.8 539.3,425.1 534.4,427.3 C529.5,429.6 522.2,432.0 516.0,434.7 C509.8,437.4 503.0,440.6 497.2,443.5 C491.4,446.4 484.5,450.5 481.2,452.1 C477.9,453.8 479.0,453.3 477.6,453.1 C476.2,453.0 474.5,452.6 472.7,451.2 C471.0,449.7 468.5,446.6 467.1,444.4 C465.7,442.2 464.8,440.1 464.3,437.9 C463.9,435.7 464.2,432.9 464.4,431.3 Z" style="stroke-width:1.4"/>
<path class="m" d="M471.1,430.9 C472.6,429.0 475.2,427.9 479.8,426.0 C484.4,424.1 491.2,422.1 498.4,419.8 C505.6,417.5 517.0,413.8 523.2,412.3 C529.4,410.9 532.2,410.7 535.5,411.1 C538.8,411.5 541.5,413.4 543.0,414.8 C544.5,416.2 545.5,418.2 544.2,419.8 C543.0,421.4 540.0,422.4 535.5,424.7 C531.0,427.0 523.6,430.7 517.0,433.4 C510.4,436.1 501.5,438.5 495.9,440.8 C490.3,443.1 486.6,445.8 483.5,447.0 C480.4,448.2 479.2,448.7 477.3,448.3 C475.4,447.9 473.3,446.5 472.3,444.6 C471.3,442.7 471.3,439.4 471.1,437.1 C470.9,434.8 469.7,432.8 471.1,430.9 Z" style="stroke-width:1.7"/>
<path class="l" d="M498.4,419.8 C498.3,421.2 498.3,425.6 498.0,428.0 C497.7,430.4 497.2,432.0 496.8,434.0 C496.4,436.0 496.0,439.0 495.9,440.0"/>
<path d="M491.6,431.8 L493,431.8 L493,438.6 L491.6,438.6 Z" fill="#000"/>
<path d="M473.6,419 L474.5,415 L482.5,413.8 L483.8,417.5 Z" fill="#000" stroke="#000" stroke-width="1"/>
<path d="M476,416.5 L481,415.6" stroke="#fff" stroke-width="0.8"/>
<path d="M494.5,412 L495.5,409.5 L500.5,408.6 L501.2,411 Z" fill="#000" stroke="#000" stroke-width="1"/>
<path d="M501.6,438.5 L502.6,436 L507.6,434.5 L508.6,437 Z" fill="#000"/>
<path d="M510.20000000000005,433.8 L511.20000000000005,431.3 L516.2,429.8 L517.2,432.3 Z" fill="#000"/>
<path d="M528,425.0 L529,422.5 L534,421.0 L535,423.5 Z" fill="#000"/>
<path class="l" d="M516.5,406 C520,402.5 524,401.5 529,402.2 M519,400 L521,402.5"/>
<!-- 210 handle -->
<path class="k" d="M539.3,468.6 C539.2,465.9 538.6,455.6 538.6,452.3 C538.6,449.0 538.8,450.1 539.1,448.6 C539.4,447.1 540.3,444.1 540.5,443.2" style="stroke-width:2.4"/>
<path class="k" d="M540.5,443.2 C541.8,442.8 545.4,441.7 548.2,440.9 C551.0,440.1 554.3,439.3 557.3,438.6 C560.3,437.9 563.4,437.0 566.4,436.8 C569.4,436.6 573.1,437.4 575.5,437.7 C577.9,438.0 580.0,438.5 580.9,438.6" style="stroke-width:2.8;stroke-dasharray:2.4 0.7"/>
<path class="m" d="M580.9,438.6 C581.8,438.5 584.3,438.0 586.4,437.7 C588.5,437.4 592.0,436.4 593.6,436.8 C595.2,437.2 595.6,438.5 595.9,440.0 C596.2,441.5 596.2,444.5 595.5,445.9 C594.8,447.3 593.0,447.7 591.8,448.6 C590.6,449.5 588.8,450.9 588.2,451.4" style="stroke-width:2"/>
<path class="m" d="M588.2,451.4 C586.1,452.8 580.6,456.8 575.5,459.5 C570.4,462.2 562.6,465.1 557.3,467.7 C552.0,470.3 546.8,473.6 543.6,475.0 C540.4,476.4 539.1,475.8 538.2,475.9" style="stroke-width:1.5"/>
<circle cx="537.3" cy="473.8" r="2.2" fill="#000"/>
<circle cx="539" cy="451" r="1.6" fill="#000"/>
<path class="l" d="M557.3,445.0 C558.1,444.6 560.3,443.1 562.0,442.7 C563.7,442.3 565.9,442.5 567.5,442.6 C569.1,442.7 571.2,442.3 571.8,443.2 C572.4,444.1 571.8,446.2 571.0,448.0 C570.2,449.8 568.5,452.3 567.0,454.0 C565.5,455.7 563.5,457.4 562.0,458.3 C560.5,459.2 559.1,460.1 558.2,459.5 C557.3,458.9 556.8,457.4 556.6,455.0 C556.5,452.6 557.2,446.7 557.3,445.0"/>
<path class="l" d="M555.9,452.3 L560,445.5"/>
<path class="m" d="M543.6,467.7 C545.5,466.8 551.4,464.0 555.0,462.5 C558.6,461.0 562.0,459.6 565.0,458.5 C568.0,457.4 571.4,456.3 572.7,455.9"/>
<path class="l" d="M541.8,473.2 L588.2,451.4"/>
<path class="l" d="M566.5,459.3 L572,456.5 M567.3,461 L572.8,458.3"/>
<path class="m" d="M581.5,438.8 C581.9,439.3 583.1,440.6 584.0,441.8 C584.9,443.0 586.0,444.7 587.0,446.0 C588.0,447.3 589.5,448.9 590.0,449.5"/>
<path class="t" d="M583.3,437.5 L588.2,436.5 L593.7,438 L594.2,444 L591,447.5 Z" style="stroke-width:1.8"/>
<path class="l" d="M585.5,440.5 L590.5,439.5 L592,443.5 L588.5,446"/>
<path class="m" d="M559.1,433.2 L562.7,436.8"/>
<path class="l" d="M573.5,449 L575.8,446.5 M577.8,452 L579,449.5"/>
<!-- 150 handle -->
<path class="m" d="M744.1,489.3 C741.1,489.5 732.0,490.0 726.0,490.5 C720.0,491.0 714.4,491.3 708.4,492.3 C702.4,493.3 695.9,494.8 690.0,496.5 C684.1,498.2 678.5,500.4 672.8,502.7 C667.1,504.9 660.2,508.0 656.0,510.0 C651.8,512.0 650.0,513.2 647.5,514.9 C645.0,516.6 642.7,518.6 641.0,520.0 C639.3,521.4 638.6,521.5 637.1,523.5 C635.6,525.5 633.5,529.0 632.0,532.0 C630.5,535.0 629.0,539.4 628.1,541.4 C627.2,543.4 628.2,543.4 626.7,543.9 C625.2,544.4 622.4,544.5 619.2,544.4 C616.0,544.3 610.5,543.9 607.3,543.1 C604.1,542.3 602.4,541.1 599.9,539.4 C597.4,537.7 594.5,534.7 592.5,532.7 C590.5,530.7 589.8,529.2 588.0,527.5 C586.2,525.8 584.0,523.4 582.0,522.3 C580.0,521.2 577.0,521.1 576.0,520.9" style="stroke-width:1.5"/>
<path class="m" d="M580.6,555.8 C583.3,556.4 590.5,557.9 596.9,559.5 C603.3,561.1 613.0,564.0 619.2,565.4 C625.4,566.8 629.0,567.5 634.1,567.7 C639.2,568.0 645.0,567.3 650.0,566.9 C655.0,566.5 656.5,568.0 663.8,565.2 C671.1,562.4 683.7,556.2 693.6,550.3 C703.5,544.3 716.2,534.9 723.3,529.5 C730.4,524.1 733.0,521.0 736.0,518.0 C739.0,515.0 739.6,514.6 741.2,511.6 C742.8,508.6 745.1,503.4 745.6,499.7 C746.1,496.0 744.4,491.0 744.1,489.3" style="stroke-width:1.5"/>
<path class="m" d="M542.0,524.9 C542.5,524.1 543.5,522.7 544.6,522.3 C545.7,521.9 547.0,520.9 548.6,522.3 C550.2,523.7 554.2,527.8 554.5,530.9 C554.8,534.0 551.7,539.3 550.6,540.8 C549.5,542.3 549.3,541.9 547.9,540.1 C546.5,538.3 543.1,532.4 542.0,530.2 C540.9,528.0 541.3,527.8 541.3,526.9 C541.3,526.0 541.5,525.7 542.0,524.9 Z" style="stroke-width:1.6"/>
<path class="l" d="M543.5,527.0 C543.8,526.6 544.8,524.9 545.5,524.5 C546.2,524.1 546.7,523.7 547.8,524.8 C548.9,525.9 551.8,528.7 552.0,531.0 C552.2,533.3 549.5,537.2 549.0,538.5"/>
<path class="m" d="M554.5,530.9 L561.1,532.2 L555.9,541.4 L551.2,541.4" style="stroke-width:1.5"/>
<path class="m" d="M553.3,533.8 L560,535 M552.3,536.5 L558.5,537.8" style="stroke-width:1.3"/>
<path class="m" d="M554.5,530.9 C554.4,530.1 553.8,527.4 553.8,526.0 C553.8,524.6 554.0,523.2 554.5,522.5 C555.0,521.8 555.8,521.5 556.5,521.6 C557.2,521.7 558.2,522.5 558.5,523.0 C558.8,523.5 558.5,524.6 558.5,524.9" style="stroke-width:1.5"/>
<path class="m" d="M558.5,524.9 C558.9,524.5 560.0,523.4 561.0,522.8 C562.0,522.1 563.3,521.5 564.4,521.0 C565.5,520.5 566.4,520.1 567.8,520.0 C569.2,519.9 571.3,520.0 573.0,520.3 C574.7,520.6 576.5,521.3 578.0,521.6 C579.5,521.9 581.3,522.2 582.0,522.3" style="stroke-width:1.5"/>
<path class="l" d="M561.1,532.2 C561.4,531.5 562.2,529.3 563.0,528.0 C563.8,526.7 564.8,525.3 566.0,524.5 C567.2,523.7 568.5,523.2 570.0,523.0 C571.5,522.8 574.2,523.4 575.0,523.5"/>
<path class="m" d="M549.9,542.1 C550.5,542.6 551.9,544.4 553.2,545.4 C554.5,546.4 555.9,547.2 557.8,548.1 C559.7,549.0 562.0,549.9 564.4,550.7 C566.8,551.5 569.3,552.1 572.0,553.0 C574.7,553.9 579.2,555.3 580.6,555.8" style="stroke-width:1.5"/>
<path class="l" d="M551.5,543.5 C552.2,544.2 554.2,546.3 556.0,547.5 C557.8,548.7 559.7,549.5 562.0,550.6 C564.3,551.7 567.3,553.0 570.0,554.0 C572.7,555.0 576.7,556.1 578.0,556.5"/>
<path d="M573.5,521 C578.5,521.5 582.5,523.5 585.5,527 C587.2,529 588.5,530.8 589.3,532.7 C585.5,532 582,530.5 579,528.5 C576.5,526.5 574.5,524 573.5,521 Z" fill="#000"/>
<path class="l" d="M576,523.8 L587,530.8 M578.5,523.2 L585.5,528" style="stroke:#fff;stroke-width:0.7"/>
<path class="l" d="M566.4,538.8 L573.7,536.8 M566.4,540.1 L576,540.5 M567,542.5 L573,541"/>
<path class="l" d="M604.5,551.5 L621.5,559"/>
<path class="l" d="M651,535 L685,519.5"/>
<path class="l" d="M667,548 L700,531 M668,550 L701,533"/>
<path class="l" d="M646.0,519.0 C645.6,519.8 644.0,522.1 643.5,523.5 C643.0,524.9 642.9,526.8 642.8,527.5"/>
<path class="l" d="M644.5,526 L645.5,523.5 M643,531 L644,529"/>
<path class="l" d="M708,491.5 L708.5,494.3 L712.3,494 L712,491"/>
<path class="l" d="M725.8,513.5 L727.5,512.5"/>
<path class="l" d="M742.0,493.0 C742.2,494.2 743.1,497.7 743.0,500.0 C742.9,502.3 742.2,505.0 741.5,507.0 C740.8,509.0 739.0,511.2 738.5,512.0"/>
<path class="l" d="M720.2,486.8 L706,491.5"/>
<path class="l" d="M735,488.8 L737,488.5"/>

<!-- ============ 280 screw ============ -->
<g fill="none" stroke="#000" stroke-linejoin="round" stroke-linecap="round">
<path d="M420.2,467.3 C419,467.5 418,469 418.3,471 C418.5,472 419,472.6 419.5,472.8 L429.8,480.5 L431.7,473.5 L421,467.2 Z" fill="#fcfcfc" stroke-width="1.7"/>
<path d="M421.6,467.9 C420.6,469 420.6,471 421.3,473.6 M423.6,468.9 C422.6,470 422.6,472.2 423.3,475.1 M425.6,470 C424.6,471.2 424.6,473.4 425.3,476.6 M427.6,471.1 C426.6,472.3 426.6,474.6 427.3,478.1" stroke-width="1.3"/>
<ellipse cx="436" cy="480.8" rx="5.8" ry="7.1" fill="#fcfcfc" stroke-width="2.8"/>
<path d="M430.5,476 C431,474.5 432,473.8 433,473.5 L432.5,487.5 C431.2,486.5 430.3,484.5 430,482 Z" fill="#000" stroke="none"/>
<path d="M439,477.3 C436.5,477.8 435,480.3 435.3,483 C435.6,484.8 436.8,485.8 438.3,485.5" stroke-width="1.5"/>
</g>

<!-- ============ BOXES ============ -->
<g>
<rect class="bx" x="447.2" y="24.2" width="36.6" height="21.5"/>
<text class="n" x="448.8" y="37.7" textLength="27.4" lengthAdjust="spacingAndGlyphs">250</text>
<rect class="bx" x="491.2" y="73.2" width="36.6" height="21.5"/>
<text class="n" x="491.4" y="87.5" textLength="27.4" lengthAdjust="spacingAndGlyphs">240</text>
<rect class="bx" x="328.1" y="146.0" width="36.6" height="21.5"/>
<text class="n" x="329.5" y="160.1" textLength="27.4" lengthAdjust="spacingAndGlyphs">230</text>
<rect class="bx" x="334.2" y="176.2" width="36.6" height="21.5"/>
<text class="n" x="334.4" y="189.7" textLength="27.4" lengthAdjust="spacingAndGlyphs">220</text>
<rect class="bx" x="417.2" y="165.2" width="36.6" height="21.5"/>
<text class="n" x="419.0" y="179.0" textLength="27.4" lengthAdjust="spacingAndGlyphs">130</text>
<rect class="bx" x="559.2" y="221.2" width="36.6" height="21.5"/>
<text class="n" x="560.3" y="233.8" textLength="27.4" lengthAdjust="spacingAndGlyphs">270</text>
<rect class="bx" x="494.2" y="279.1" width="36.6" height="21.5"/>
<text class="n" x="496.0" y="292.1" textLength="27.4" lengthAdjust="spacingAndGlyphs">100</text>
<rect class="bx" x="158.2" y="359.2" width="36.6" height="21.5"/>
<text class="n" x="160.0" y="371.9" textLength="27.4" lengthAdjust="spacingAndGlyphs">120</text>
<rect class="bx" x="511.2" y="383.2" width="36.6" height="21.5"/>
<text class="n" x="512.2" y="396.6" textLength="27.4" lengthAdjust="spacingAndGlyphs">340</text>
<rect class="bx" x="578.2" y="413.2" width="36.6" height="21.5"/>
<text class="n" x="579.2" y="426.6" textLength="27.4" lengthAdjust="spacingAndGlyphs">210</text>
<rect class="bx" x="721.2" y="466.2" width="36.6" height="21.5"/>
<text class="n" x="723.3" y="478.9" textLength="27.4" lengthAdjust="spacingAndGlyphs">150</text>
<rect class="bx" x="414.2" y="495.2" width="36.6" height="21.5"/>
<text class="n" x="415.3" y="507.6" textLength="27.4" lengthAdjust="spacingAndGlyphs">280</text>
<rect class="bx" x="125.2" y="537.3" width="36.6" height="21.5"/>
<text class="n" x="126.3" y="550.3" textLength="27.4" lengthAdjust="spacingAndGlyphs">500</text>
</g>

<!-- ============ ORANGE ANNOTATIONS ============ -->
<ellipse class="o" cx="485.9" cy="94.3" rx="75.5" ry="60.9"/>
<ellipse class="o" cx="425.2" cy="498.9" rx="45.6" ry="38.7"/>
<text class="on" x="519.3" y="127.7" style="font-size:32.5px">3</text>
<path d="M441.8,557 L446.3,557 L446.3,575.6 L449.9,575.6 L449.9,579 L436.5,579 L436.5,575.6 L441.6,575.6 L441.6,562 L437.4,564.6 L436.1,561.6 Z" fill="#f07f2d"/>
<text class="on" x="713.5" y="468.6" style="font-size:30.5px">2</text>
</svg>
</body></html>
